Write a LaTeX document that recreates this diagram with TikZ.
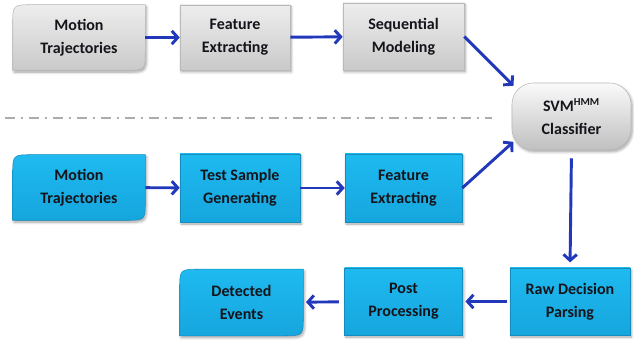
\documentclass[tikz,border=0pt]{standalone}
\usepackage{fontspec}
\setmainfont{Carlito}
\usepackage{tikz}
\usetikzlibrary{arrows.meta}
\usetikzlibrary{backgrounds}
\usetikzlibrary{shadows.blur}
\definecolor{flowblue}{RGB}{34,56,186}
\definecolor{boxcyan}{RGB}{30,186,240}
\definecolor{boxcyandark}{RGB}{22,166,222}
\definecolor{txtdark}{RGB}{20,20,26}
\tikzset{
  stagebox/.style={align=center,font=\bfseries\fontsize{12}{17}\selectfont,text=txtdark,inner sep=2pt},
  graybox/.style={stagebox,top color=gray!14,bottom color=gray!42,draw=gray!55,line width=0.4pt,
    blur shadow={shadow xshift=1pt,shadow yshift=-1.5pt,shadow blur steps=6,shadow opacity=35}},
  bluebox/.style={stagebox,top color=boxcyan,bottom color=boxcyandark,draw=boxcyandark!85!black,line width=0.4pt,
    blur shadow={shadow xshift=1pt,shadow yshift=-1.5pt,shadow blur steps=6,shadow opacity=35}},
  flow/.style={draw=flowblue,line width=2.2pt,-{Straight Barb[length=4.5pt,width=10pt]}},
}
\newcommand{\datashape}[2]{%
  \path[#2] ([yshift=15pt]#1.north west) .. controls (#1.north west) .. ([xshift=15pt]#1.north west)
    -- (#1.north east) -- ([yshift=-15pt]#1.south east) .. controls (#1.south east) .. ([xshift=-15pt]#1.south east)
    -- (#1.south west) -- cycle;}
\begin{document}
\begin{tikzpicture}[x=0.75pt,y=0.75pt,yscale=-1,xscale=1]
\useasboundingbox (0,0) rectangle (634,341);
% training row
\node [stagebox,minimum width=99pt,minimum height=48.75pt] (mtrain) at (79,37.5) {Motion\\Trajectories};
\node [graybox,minimum width=82.5pt,minimum height=48.75pt] (ftrain) at (235,37.5) {Feature\\Extracting};
\node [graybox,minimum width=90.75pt,minimum height=50.25pt] (seqmod) at (403.5,36.5) {Sequential\\Modeling};
\node [graybox,top color=gray!4,bottom color=gray!50,rounded corners=16pt,minimum width=89.25pt,minimum height=50.25pt] (svm) at (571.5,116.5) {SVM\textsuperscript{HMM}\\Classifier};
% separator
\draw [gray!65,line width=2.2pt,dash pattern=on 7.5pt off 4.5pt on 1.5pt off 4.5pt] (5,118) -- (492,118);
% testing row
\node [stagebox,minimum width=99pt,minimum height=48.75pt] (mtest) at (79,187.5) {Motion\\Trajectories};
\node [bluebox,minimum width=90pt,minimum height=51pt] (tsgen) at (240,188) {Test Sample\\Generating};
\node [bluebox,minimum width=87.75pt,minimum height=51pt] (ftest) at (403.5,188) {Feature\\Extracting};
\node [bluebox,minimum width=90pt,minimum height=50.25pt] (rawdec) at (570,301.5) {Raw Decision\\Parsing};
\node [bluebox,minimum width=88.5pt,minimum height=50.25pt] (postproc) at (403.5,301.5) {Post\\Processing};
\node [stagebox,minimum width=92.25pt,minimum height=49.5pt] (events) at (241.5,302.5) {Detected\\Events};
\begin{scope}[on background layer]
\datashape{mtrain}{top color=gray!14,bottom color=gray!42,draw=gray!55,line width=0.4pt,blur shadow={shadow xshift=1pt,shadow yshift=-1.5pt,shadow blur steps=6,shadow opacity=35}}
\datashape{mtest}{top color=boxcyan,bottom color=boxcyandark,draw=boxcyandark!85!black,line width=0.4pt,blur shadow={shadow xshift=1pt,shadow yshift=-1.5pt,shadow blur steps=6,shadow opacity=35}}
\datashape{events}{top color=boxcyan,bottom color=boxcyandark,draw=boxcyandark!85!black,line width=0.4pt,blur shadow={shadow xshift=1pt,shadow yshift=-1.5pt,shadow blur steps=6,shadow opacity=35}}
\end{scope}
% arrows
\draw [flow] (mtrain) -- (ftrain);
\draw [flow] (ftrain) -- (seqmod);
\draw [flow,shorten >=1pt] (seqmod.east) -- ([xshift=2pt,yshift=3pt]svm.north west);
\draw [flow] (mtest) -- (tsgen);
\draw [flow] (tsgen) -- (ftest);
\draw [flow,shorten >=1pt] (ftest.east) -- ([xshift=2pt,yshift=-7pt]svm.south west);
\draw [flow,shorten <=6pt,shorten >=4pt] (svm.south) -- (rawdec.north);
\draw [flow,shorten <=2pt,shorten >=2pt] (rawdec) -- (postproc);
\draw [flow,shorten <=4pt,shorten >=2pt] (postproc) -- (events);
\end{tikzpicture}
\end{document}
